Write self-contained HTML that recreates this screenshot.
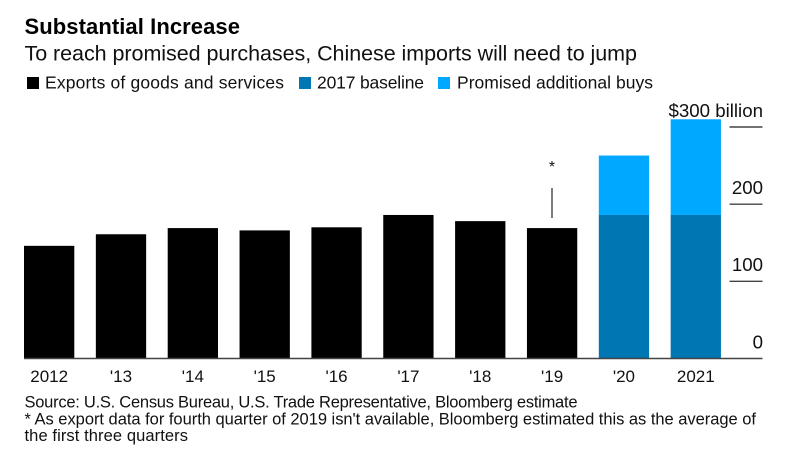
<!DOCTYPE html>
<html>
<head>
<meta charset="utf-8">
<style>
html,body{margin:0;padding:0;background:#fff;width:793px;height:473px;overflow:hidden}
svg{display:block}
text{font-family:"Liberation Sans",sans-serif;fill:#111}
</style>
</head>
<body>
<svg id="chart" width="793" height="473" viewBox="0 0 793 473" xmlns="http://www.w3.org/2000/svg">
<text x="24.5" y="34" font-size="22" font-weight="bold" textLength="215.5" style="fill:#000">Substantial Increase</text>
<text x="24.5" y="60.5" font-size="21.5" textLength="612.5">To reach promised purchases, Chinese imports will need to jump</text>
<rect x="27" y="77" width="12" height="12" fill="#000"/>
<text x="45" y="88.5" font-size="17.5" textLength="239">Exports of goods and services</text>
<rect x="299" y="77" width="12" height="12" fill="#0077b3"/>
<text x="317" y="88.5" font-size="17.5" textLength="107">2017 baseline</text>
<rect x="438" y="77" width="12" height="12" fill="#00a8ff"/>
<text x="457" y="88.5" font-size="17.5" textLength="196">Promised additional buys</text>
<g id="bars"></g>
<g id="y-axis"></g>
<g id="x-axis"></g>
<text x="552" y="172" font-size="16" text-anchor="middle">*</text>
<line x1="552" y1="188" x2="552" y2="218" stroke="#444" stroke-width="1.4"/>
<text x="24.5" y="407.5" font-size="16.5" textLength="553">Source: U.S. Census Bureau, U.S. Trade Representative, Bloomberg estimate</text>
<text x="24.5" y="424.5" font-size="16.5" textLength="731.5">* As export data for fourth quarter of 2019 isn't available, Bloomberg estimated this as the average of</text>
<text x="24.5" y="441" font-size="16.5" textLength="163.5">the first three quarters</text>
</svg>
<script>
var categories = ["2012", "'13", "'14", "'15", "'16", "'17", "'18", "'19", "'20", "2021"];
var exportsValues = [146, 161, 169, 166, 170, 186, 178, 169, 0, 0];
var baselineValues = [0, 0, 0, 0, 0, 0, 0, 0, 186, 186];
var additionalValues = [0, 0, 0, 0, 0, 0, 0, 0, 77, 124];
var yTicks = [0, 100, 200, 300];
var yTickLabels = ["0", "100", "200", "$300 billion"];

var NS = 'http://www.w3.org/2000/svg';
function yScale(v) { return 358.5 - v * 0.7717; }
function xScale(i) { return 24 + i * 71.85; }
var barWidth = 50.3;

function make(tag, parent, attrs) {
  var el = document.createElementNS(NS, tag);
  for (var k in attrs) el.setAttribute(k, attrs[k]);
  parent.appendChild(el);
  return el;
}
function drawBar(parent, i, v0, v1, fill) {
  var top = yScale(v1);
  return make('rect', parent, { x: xScale(i), y: top, width: barWidth, height: yScale(v0) - top, fill: fill });
}

var barsG = document.getElementById('bars');
categories.forEach(function (c, i) {
  var base = 0;
  if (exportsValues[i] > 0) {
    var a = drawBar(barsG, i, base, base + exportsValues[i], '#000');
    
    
    base += exportsValues[i];
  }
  if (baselineValues[i] > 0) {
    var b = drawBar(barsG, i, base, base + baselineValues[i], '#0077b3');
    
    
    base += baselineValues[i];
  }
  if (additionalValues[i] > 0) {
    var d = drawBar(barsG, i, base, base + additionalValues[i], '#00a8ff');
    
    
  }
});

var yG = document.getElementById('y-axis');
yTicks.forEach(function (t, i) {
  var y = yScale(t);
  var isZero = t === 0;
  var ln = make('line', yG, { x1: isZero ? 24 : 729.5, x2: 762.5, y1: y, y2: y, stroke: '#444', 'stroke-width': 1.4 });
  
  
  var tx = make('text', yG, { x: 763, y: y - 10.2, 'font-size': 18.7, 'text-anchor': 'end' });
  tx.textContent = yTickLabels[i];
  
  
});

var xG = document.getElementById('x-axis');
categories.forEach(function (c, i) {
  var tx = make('text', xG, { x: xScale(i) + barWidth / 2, y: 382, 'font-size': 17, 'text-anchor': 'middle' });
  tx.textContent = c;
  
  
});
</script>
</body>
</html>
